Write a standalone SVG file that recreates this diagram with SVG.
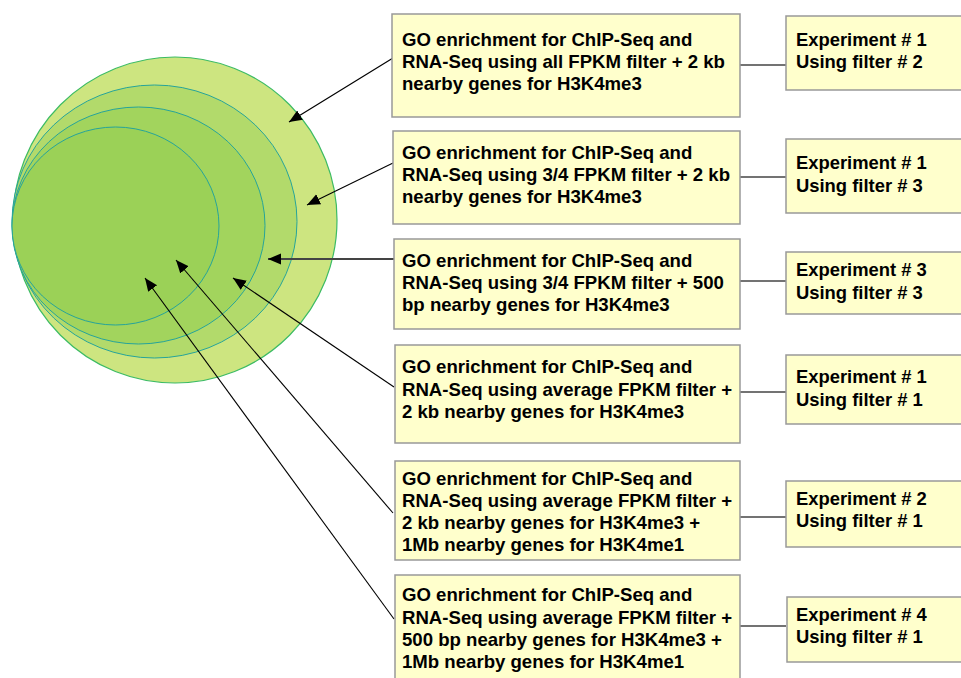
<svg xmlns="http://www.w3.org/2000/svg" width="961" height="678" viewBox="0 0 961 678">
<style>
.box{fill:#ffffcc;stroke:#999999;stroke-width:1.5}
.t{font-family:"Liberation Sans",Arial,sans-serif;font-weight:bold;font-size:18.6px;fill:#000}
.e{font-size:18.4px}
.link{stroke:#444;stroke-width:1.5;fill:none}
.arr{stroke:#000;stroke-width:1.1;fill:none;marker-end:url(#ah)}
</style>
<defs>
<marker id="ah" markerUnits="userSpaceOnUse" markerWidth="14" markerHeight="12" refX="13" refY="5.5" orient="auto">
<path d="M0,0 L13,5.5 L0,11 Z" fill="#000"/>
</marker>
</defs>
<g id="sets">
<ellipse cx="175" cy="220" rx="162" ry="163" fill="#cde580" stroke="#3cbb64" stroke-width="1.2"/>
<ellipse cx="154.5" cy="221.5" rx="142.5" ry="136.5" fill="#b2da6b" stroke="#26a49a" stroke-width="1"/>
<ellipse cx="138.5" cy="225.5" rx="126.5" ry="118.5" fill="#a2d45d" stroke="#26a49a" stroke-width="1"/>
<ellipse cx="115.5" cy="226" rx="103.5" ry="99" fill="#9bd157" stroke="#26a49a" stroke-width="1"/>
</g>
<g id="connectors">
<line class="arr" x1="393" y1="58" x2="289" y2="122"/>
<line class="arr" x1="393" y1="163" x2="307" y2="205"/>
<line class="arr" x1="394" y1="259" x2="268" y2="259" style="stroke:#444;stroke-width:1.8"/>
<line class="arr" x1="394" y1="387" x2="233" y2="278"/>
<line class="arr" x1="393" y1="513" x2="176" y2="260"/>
<line class="arr" x1="394" y1="619" x2="145" y2="278"/>
<line class="link" x1="740" y1="65" x2="786" y2="65"/>
<line class="link" x1="740" y1="177" x2="786" y2="177"/>
<line class="link" x1="740" y1="281" x2="786" y2="281"/>
<line class="link" x1="740" y1="392" x2="786" y2="392"/>
<line class="link" x1="740" y1="517" x2="786" y2="517"/>
<line class="link" x1="740" y1="626" x2="786" y2="626"/>
</g>
<g id="go1">
<rect class="box" x="392" y="14" width="348" height="103"/>
<text class="t" x="402" y="46">GO enrichment for ChIP-Seq and</text>
<text class="t" x="402" y="68">RNA-Seq using all FPKM filter + 2 kb</text>
<text class="t" x="402" y="90">nearby genes for H3K4me3</text>
</g>
<g id="go2">
<rect class="box" x="393" y="131" width="347" height="93"/>
<text class="t" x="402" y="159">GO enrichment for ChIP-Seq and</text>
<text class="t" x="402" y="181">RNA-Seq using 3/4 FPKM filter + 2 kb</text>
<text class="t" x="402" y="203">nearby genes for H3K4me3</text>
</g>
<g id="go3">
<rect class="box" x="394" y="239" width="346" height="90"/>
<text class="t" x="402" y="267">GO enrichment for ChIP-Seq and</text>
<text class="t" x="402" y="289">RNA-Seq using 3/4 FPKM filter + 500</text>
<text class="t" x="402" y="311">bp nearby genes for H3K4me3</text>
</g>
<g id="go4">
<rect class="box" x="395" y="345" width="345" height="98"/>
<text class="t" x="402" y="373">GO enrichment for ChIP-Seq and</text>
<text class="t" x="402" y="396">RNA-Seq using average FPKM filter +</text>
<text class="t" x="402" y="418">2 kb nearby genes for H3K4me3</text>
</g>
<g id="go5">
<rect class="box" x="395" y="461" width="345" height="99"/>
<text class="t" x="402" y="485">GO enrichment for ChIP-Seq and</text>
<text class="t" x="402" y="507">RNA-Seq using average FPKM filter +</text>
<text class="t" x="402" y="529">2 kb nearby genes for H3K4me3 +</text>
<text class="t" x="402" y="551">1Mb nearby genes for H3K4me1</text>
</g>
<g id="go6">
<rect class="box" x="395" y="575" width="345" height="110"/>
<text class="t" x="402" y="601">GO enrichment for ChIP-Seq and</text>
<text class="t" x="402" y="624">RNA-Seq using average FPKM filter +</text>
<text class="t" x="402" y="646">500 bp nearby genes for H3K4me3 +</text>
<text class="t" x="402" y="668">1Mb nearby genes for H3K4me1</text>
</g>
<g id="exp1">
<rect class="box" x="786" y="16" width="200" height="74"/>
<text class="t e" x="796" y="46">Experiment # 1</text>
<text class="t e" x="796" y="68">Using filter # 2</text>
</g>
<g id="exp2">
<rect class="box" x="786" y="139" width="200" height="74"/>
<text class="t e" x="796" y="169">Experiment # 1</text>
<text class="t e" x="796" y="192">Using filter # 3</text>
</g>
<g id="exp3">
<rect class="box" x="786" y="252" width="200" height="62"/>
<text class="t e" x="796" y="276">Experiment # 3</text>
<text class="t e" x="796" y="299">Using filter # 3</text>
</g>
<g id="exp4">
<rect class="box" x="786" y="355" width="200" height="69"/>
<text class="t e" x="796" y="383">Experiment # 1</text>
<text class="t e" x="796" y="406">Using filter # 1</text>
</g>
<g id="exp5">
<rect class="box" x="786" y="481" width="200" height="66"/>
<text class="t e" x="796" y="505">Experiment # 2</text>
<text class="t e" x="796" y="527">Using filter # 1</text>
</g>
<g id="exp6">
<rect class="box" x="787" y="597" width="200" height="65"/>
<text class="t e" x="796" y="621">Experiment # 4</text>
<text class="t e" x="796" y="643">Using filter # 1</text>
</g>
</svg>
